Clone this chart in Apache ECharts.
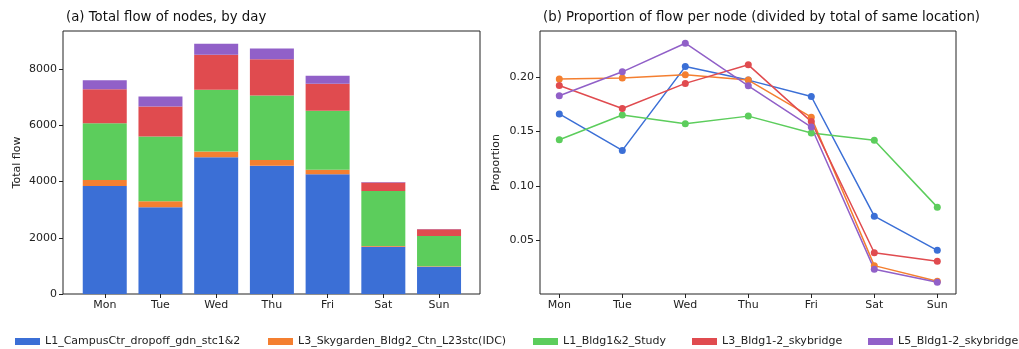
<!DOCTYPE html>
<html>
<head>
<meta charset="utf-8">
<script src="https://cdn.jsdelivr.net/npm/echarts@6/dist/echarts.min.js"></script>
<style>
  html, body { margin: 0; padding: 0; background: #fff; }
  #chart { width: 1019px; height: 349px; }
</style>
</head>
<body>
<div id="chart"></div>
<script>
const days = ['Mon', 'Tue', 'Wed', 'Thu', 'Fri', 'Sat', 'Sun'];
const seriesNames = [
  'L1_CampusCtr_dropoff_gdn_stc1&2',
  'L3_Skygarden_Bldg2_Ctn_L23stc(IDC)',
  'L1_Bldg1&2_Study',
  'L3_Bldg1-2_skybridge',
  'L5_Bldg1-2_skybridge'
];
// (a) total flow, stacked per node
const flowCampusCtr = [3840, 3085, 4865, 4565, 4260, 1680, 970];
const flowSkygarden = [212, 214, 205, 205, 160, 30, 14];
const flowStudy     = [2020, 2300, 2195, 2290, 2100, 1955, 1080];
const flowSky2      = [1210, 1070, 1245, 1295, 960, 300, 240];
const flowSky5      = [320, 355, 390, 375, 285, 20, 10];
// (b) proportion of flow per node
const propCampusCtr = [0.166, 0.1326, 0.2094, 0.197, 0.182, 0.0723, 0.041];
const propSkygarden = [0.198, 0.199, 0.202, 0.197, 0.163, 0.027, 0.0126];
const propStudy     = [0.1424, 0.165, 0.157, 0.164, 0.1485, 0.1418, 0.0806];
const propSky2      = [0.192, 0.171, 0.194, 0.211, 0.159, 0.0388, 0.031];
const propSky5      = [0.1826, 0.2046, 0.2308, 0.1918, 0.154, 0.0236, 0.0118];
const flowTicks = [0, 2000, 4000, 6000, 8000];
const propTicks = [0.05, 0.10, 0.15, 0.20];

const colors = ['#3b6fd6', '#f47f30', '#5ccd5c', '#e04b4f', '#9160c8'];
const flows = [flowCampusCtr, flowSkygarden, flowStudy, flowSky2, flowSky5];
const props = [propCampusCtr, propSkygarden, propStudy, propSky2, propSky5];
const font = 'DejaVu Sans';
const FLOW_MAX = 9356, PROP_MIN = 0.001, PROP_MAX = 0.242;

const chart = echarts.init(document.getElementById('chart'), null, { renderer: 'canvas' });
const legends = [10, 263, 528, 687, 863].map((left, i) => ({
  data: [seriesNames[i]], left, top: 331,
  icon: 'rect', itemWidth: 25, itemHeight: 7,
  textStyle: { fontFamily: font, fontSize: 11, color: '#222' },
  selectedMode: false
}));

const hiddenX = (gridIndex) => ({ type: 'value', gridIndex, show: false, min: 0, max: 1 });
const dayAxis = (gridIndex, boundaryGap) => ({
  type: 'category', gridIndex, data: days, boundaryGap,
  axisLine: { show: false }, splitLine: { show: false },
  axisTick: { show: true, length: 4, alignWithLabel: true, lineStyle: { color: '#222' } },
  axisLabel: { fontFamily: font, fontSize: 11, color: '#222', margin: 6, interval: 0 }
});
const hiddenY = (gridIndex, min, max) => ({ type: 'value', gridIndex, min, max, show: false, splitLine: { show: false } });

chart.setOption({
  backgroundColor: '#fff',
  animation: false,
  color: colors,
  title: [
    { text: '(a) Total flow of nodes, by day', left: 61, top: 6,
      textStyle: { fontFamily: font, fontSize: 13.3, fontWeight: 'normal', color: '#111' } },
    { text: '(b) Proportion of flow per node (divided by total of same location)', left: 538, top: 6,
      textStyle: { fontFamily: font, fontSize: 13.3, fontWeight: 'normal', color: '#111' } }
  ],
  legend: legends,
  grid: [
    // frame (a)
    { left: 63, top: 31, width: 417, height: 263, show: true, borderColor: '#222', borderWidth: 1, backgroundColor: 'transparent' },
    // data (a)
    { left: 76.9, top: 31, width: 390, height: 263 },
    // frame (b)
    { left: 540, top: 31, width: 416, height: 263, show: true, borderColor: '#222', borderWidth: 1, backgroundColor: 'transparent' },
    // data (b)
    { left: 559.3, top: 31, width: 378, height: 263 }
  ],
  xAxis: [hiddenX(0), dayAxis(1, true), hiddenX(2), dayAxis(3, false)],
  yAxis: [
    {
      type: 'value', gridIndex: 0, min: 0, max: FLOW_MAX,
      name: 'Total flow', nameLocation: 'middle', nameGap: 40,
      nameTextStyle: { fontFamily: font, fontSize: 11, color: '#222' },
      axisLine: { show: false, onZero: false }, splitLine: { show: false },
      axisTick: { show: true, length: 4, customValues: flowTicks, lineStyle: { color: '#222' } },
      axisLabel: { customValues: flowTicks, formatter: v => String(v),
        fontFamily: font, fontSize: 11, color: '#222', margin: 6 }
    },
    hiddenY(1, 0, FLOW_MAX),
    {
      type: 'value', gridIndex: 2, min: PROP_MIN, max: PROP_MAX,
      name: 'Proportion', nameLocation: 'middle', nameGap: 38,
      nameTextStyle: { fontFamily: font, fontSize: 11, color: '#222' },
      axisLine: { show: false, onZero: false }, splitLine: { show: false },
      axisTick: { show: true, length: 4, customValues: propTicks, lineStyle: { color: '#222' } },
      axisLabel: { customValues: propTicks, formatter: v => v.toFixed(2),
        fontFamily: font, fontSize: 11, color: '#222', margin: 6 }
    },
    hiddenY(3, PROP_MIN, PROP_MAX)
  ],
  series: [
    ...flows.map((arr, i) => ({
      type: 'bar', name: seriesNames[i], stack: 'total',
      xAxisIndex: 1, yAxisIndex: 1, barWidth: 44,
      itemStyle: { color: colors[i] },
      data: arr
    })),
    ...props.map((arr, i) => ({
      type: 'line', name: seriesNames[i],
      xAxisIndex: 3, yAxisIndex: 3,
      symbol: 'circle', symbolSize: 7,
      lineStyle: { width: 1.5, color: colors[i] },
      itemStyle: { color: colors[i] },
      data: arr
    }))
  ]
});
</script>
</body>
</html>
